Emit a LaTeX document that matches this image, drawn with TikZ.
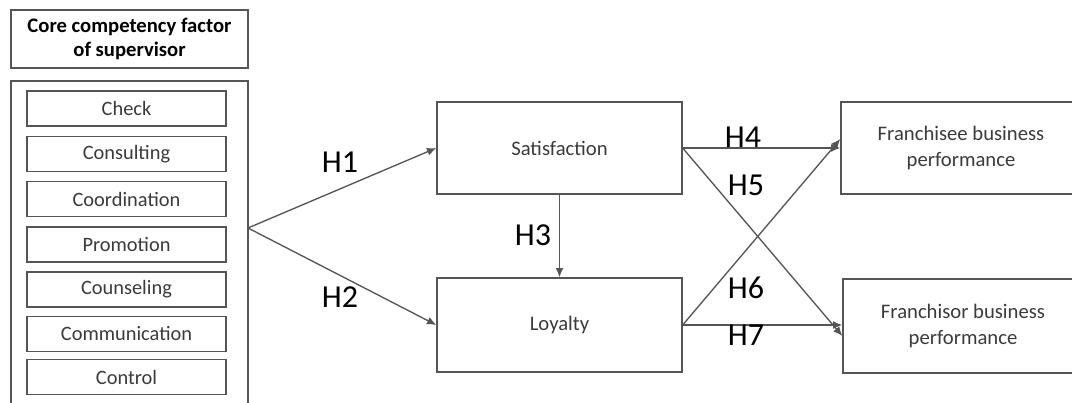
\documentclass[tikz,border=0pt]{standalone}
\usepackage{fontspec}
\setmainfont{Carlito}
\usetikzlibrary{arrows.meta}
\definecolor{ln}{HTML}{555555}
\definecolor{tx}{HTML}{3A3A3A}
\begin{document}
\begin{tikzpicture}[x=0.75pt,y=-0.75pt,
  box/.style={draw=ln,line width=1pt,rectangle,inner sep=0pt,text=tx,align=center},
  item/.style={box,minimum width=199*0.75pt,minimum height=35*0.75pt,font=\fontsize{15.3}{17}\selectfont},
  big/.style={box,font=\fontsize{15.5}{19}\selectfont},
  hl/.style={text=black,font=\fontsize{24}{26}\selectfont},
  arr/.style={draw=ln,line width=1pt,-{Latex[length=7pt,width=6pt]}}]
\useasboundingbox (0,0) rectangle (1072,403);
\node[box,minimum width=237*0.75pt,minimum height=58*0.75pt,font=\bfseries\fontsize{15.5}{18.5}\selectfont,text=black] (title) at (129.5,39) {Core competency factor\\of supervisor};
\draw[ln,line width=1pt] (11,410) -- (11,81) -- (248,81) -- (248,410);
\coordinate (br) at (248,228);
\node[item] (check) at (126.5,108.5) {Check};
\node[item] (consult) at (126.5,154) {Consulting};
\node[item] (coord) at (126.5,199) {Coordination};
\node[item] (promo) at (126.5,244.5) {Promotion};
\node[item] (couns) at (126.5,289.5) {Counseling};
\node[item] (comm) at (126.5,334) {Communication};
\node[item] (ctrl) at (126.5,377) {Control};
\node[big,minimum width=245*0.75pt,minimum height=92*0.75pt] (sat) at (559.5,148) {Satisfaction};
\node[big,minimum width=245*0.75pt,minimum height=94*0.75pt] (loy) at (559.5,325) {Loyalty};
\node[big,minimum width=240*0.75pt,minimum height=92*0.75pt] (fee) at (961,148) {Franchisee business\\performance};
\node[big,minimum width=240*0.75pt,minimum height=94*0.75pt] (for) at (963,326) {Franchisor business\\performance};
\draw[arr] (br) -- (sat.west);
\draw[arr] (br) -- (loy.west);
\draw[arr] (sat.south) -- (loy.north);
\draw[arr] (sat.east) -- (fee.west |- sat.east);
\draw[arr] (sat.east) -- ([yshift=-10*0.75pt]for.west);
\draw[arr] (loy.east) -- ([yshift=9*0.75pt]fee.west);
\draw[arr] (loy.east) -- (for.west |- loy.east);
\node[hl] (h1) at (340,162) {H1};
\node[hl] (h2) at (340,297) {H2};
\node[hl] (h3) at (533,235) {H3};
\node[hl] (h4) at (743,137) {H4};
\node[hl] (h5) at (746,185) {H5};
\node[hl] (h6) at (746,288) {H6};
\node[hl] (h7) at (746,335) {H7};
\end{tikzpicture}
\end{document}
